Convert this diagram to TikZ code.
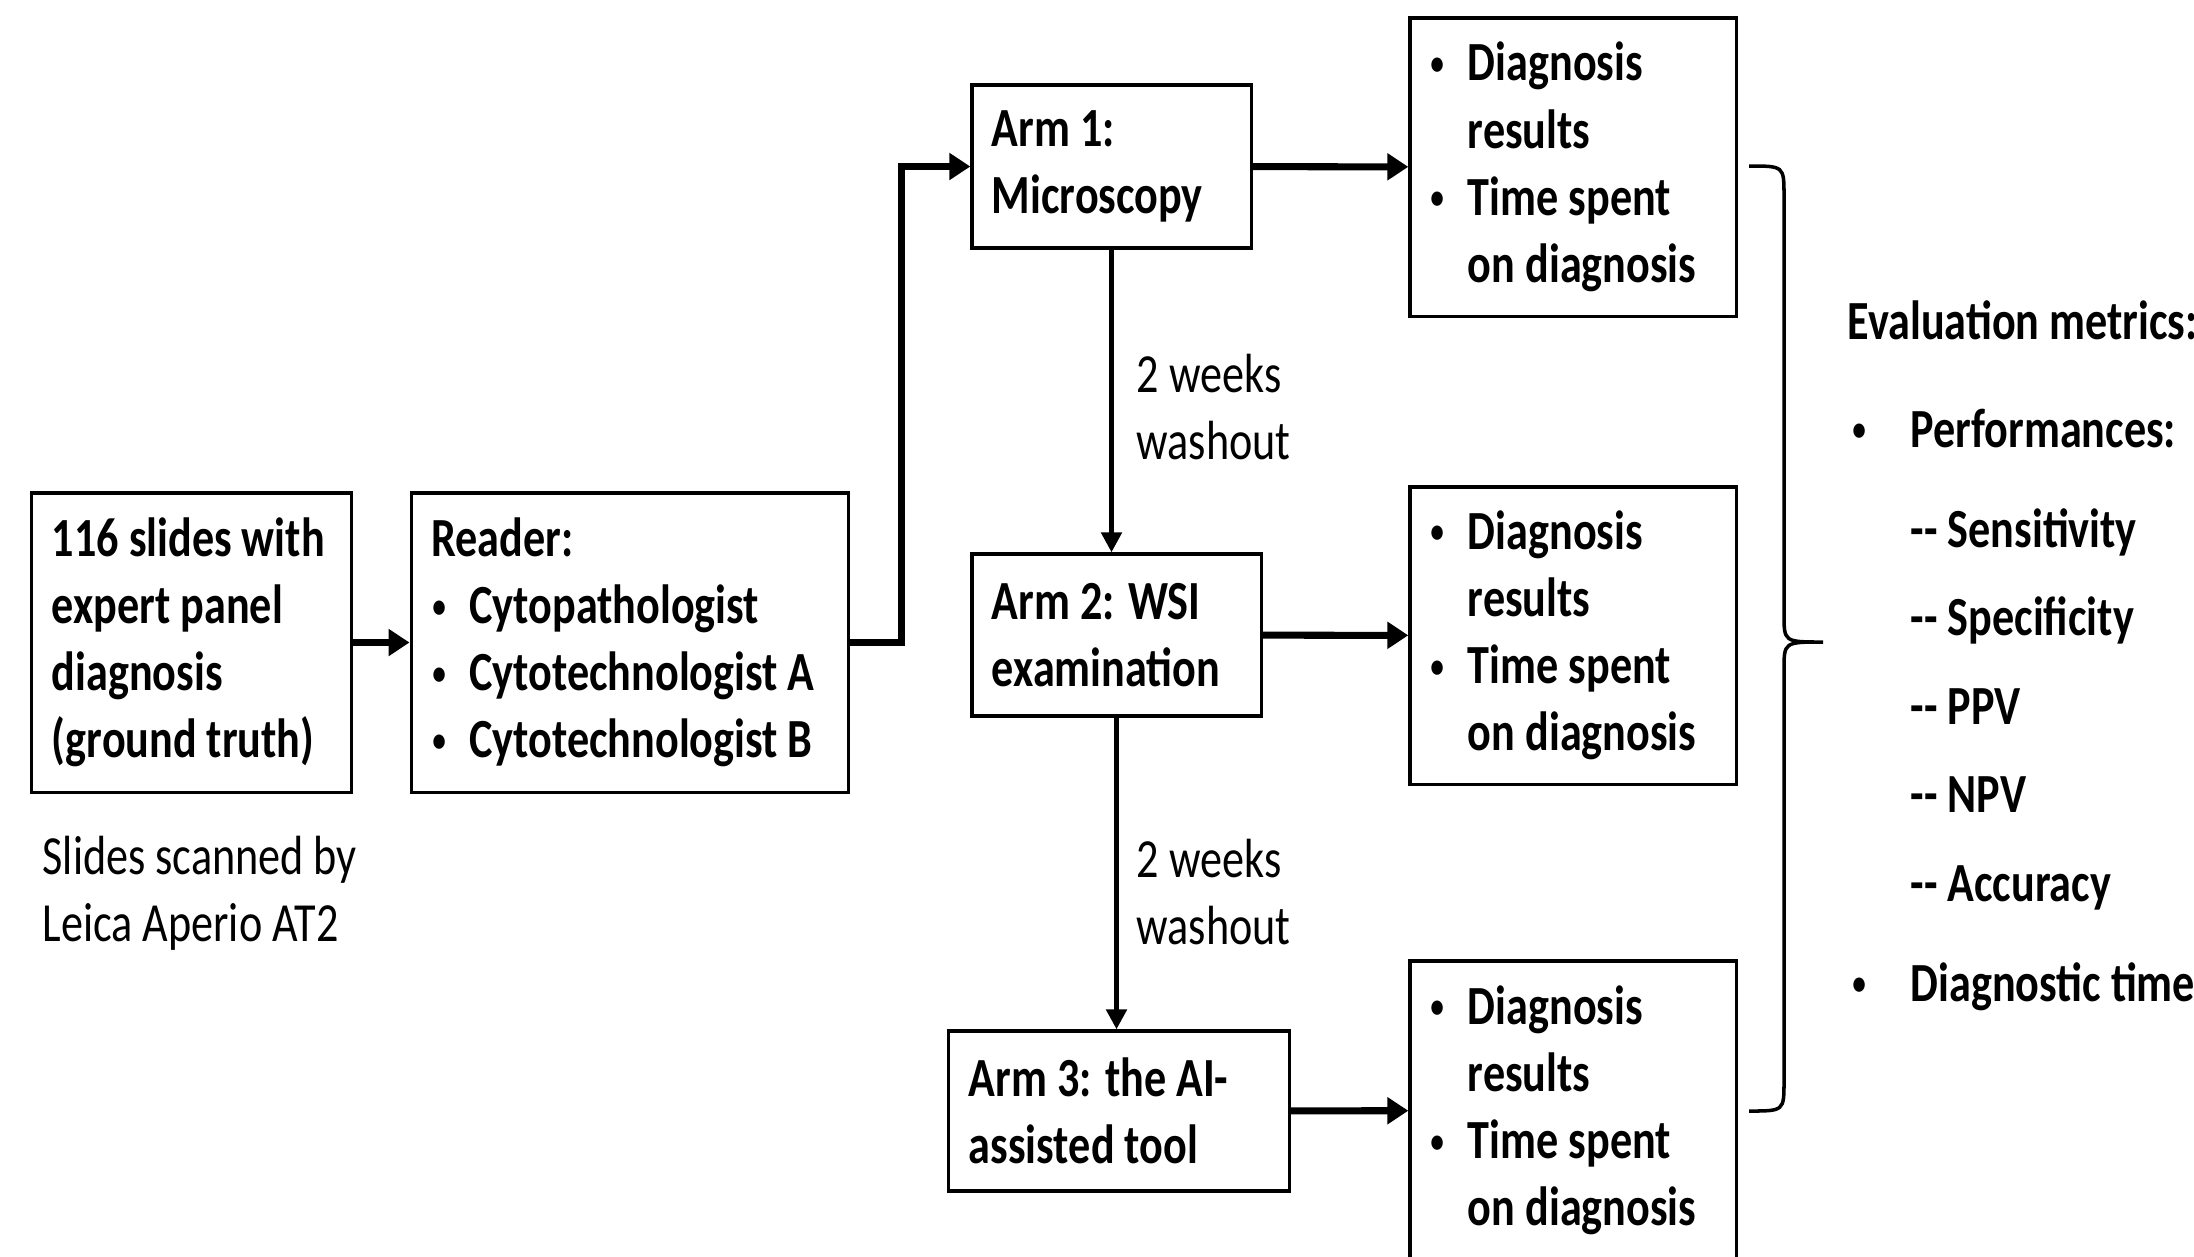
\documentclass[tikz,border=0pt]{standalone}
\usepackage{fontspec}
\setmainfont{Carlito}[FakeStretch=0.8]
\usetikzlibrary{arrows.meta,positioning}

\newcommand{\smalldot}{\raisebox{1.3pt}{\fontsize{11.5}{11.5}\selectfont\mdseries\textbullet}}
\newcommand{\bul}{\makebox[0.38cm][l]{\smalldot}}
\newcommand{\hang}{\hspace*{0.38cm}}

\begin{document}
\begin{tikzpicture}[x=0.01cm,y=-0.01cm,on grid,
	font=\fontsize{15.7}{19.1}\selectfont,
	box/.style={draw,line width=0.9pt,inner xsep=0.2cm,inner ysep=0pt,align=flush left,font=\fontsize{15.7}{19.1}\selectfont\bfseries},
	note/.style={inner sep=0pt,align=flush left,anchor=west},
	metric/.style={inner sep=0pt,anchor=base west,font=\fontsize{15.7}{19.1}\selectfont\bfseries},
	fat/.style={line width=2pt,-{Triangle[length=0.21cm,width=0.26cm]}},
	slim/.style={line width=1.4pt,-{Triangle[length=0.2cm,width=0.2cm]}}]
	\useasboundingbox (0,0) rectangle (2194,1256);

	\node[box,text width=2.79cm,minimum height=2.99cm] (slides) at (191.5,642.5) {116 slides with\\expert panel\\diagnosis\\(ground truth)};
	\node[box,text width=3.97cm,minimum height=2.99cm] (reader) [right=4.38cm of slides] {Reader:\\\bul Cytopathologist\\\bul Cytotechnologist A\\\bul Cytotechnologist B};
	\node[note] (scan) at (42,893) {Slides scanned by\\Leica Aperio AT2};

	\node[box,text width=2.39cm,minimum height=1.63cm] (arm1) at (1111.5,166.5) {Arm 1:\\Microscopy};
	\node[box,text width=2.49cm,minimum height=1.62cm] (arm2) at (1116.5,635) {Arm 2: WSI\\examination};
	\node[box,text width=3.00cm,minimum height=1.60cm] (arm3) at (1119,1111) {Arm 3: the AI-\\assisted tool};

	\node[box,text width=2.86cm,minimum height=2.98cm] (out1) at (1573,167) {\bul Diagnosis\\\hang results\\\bul Time spent\\\hang on diagnosis};
	\node[box,text width=2.86cm,minimum height=2.97cm] (out2) at (1573,635.5) {\bul Diagnosis\\\hang results\\\bul Time spent\\\hang on diagnosis};
	\node[box,text width=2.86cm,minimum height=2.99cm] (out3) at (1573,1110.5) {\bul Diagnosis\\\hang results\\\bul Time spent\\\hang on diagnosis};

	\node[note] (wash1) at (1136,407) {2 weeks\\washout};
	\node[note] (wash2) at (1136,892) {2 weeks\\washout};

	\draw[fat] (slides) -- (reader);
	\draw[fat] (reader.east) -- ++(52,0) |- (arm1.west);
	\draw[fat] (arm1) -- (out1);
	\draw[fat] (arm2) -- (out2);
	\draw[fat] (arm3) -- (out3);
	\draw[slim] (arm1.south) -- (arm1.south |- arm2.north);
	\draw[slim] (arm2.south) -- (arm2.south |- arm3.north);

	\draw[line width=1pt] (1749,166) .. controls (1784,166) .. (1784,196) -- (1784,614)
		.. controls (1784,642) .. (1823,642) .. controls (1784,642) .. (1784,670)
		-- (1784,1081) .. controls (1784,1111) .. (1749,1111);

	\node[metric] (evalhead) at (1847,339) {Evaluation metrics:};
	\node[metric] (perf) at (1910,447) {Performances:};
	\node[metric] (sens) at (1910,547) {-{}- Sensitivity};
	\node[metric] (spec) at (1910,635) {-{}- Specificity};
	\node[metric] (ppv) at (1910,724) {-{}- PPV};
	\node[metric] (npv) at (1910,812) {-{}- NPV};
	\node[metric] (acc) at (1910,901) {-{}- Accuracy};
	\node[metric] (dtime) at (1910,1001) {Diagnostic time};
	\node[metric] (perfdot) at (1851,447) {\smalldot};
	\node[metric] (timedot) at (1851,1001) {\smalldot};
\end{tikzpicture}
\end{document}
